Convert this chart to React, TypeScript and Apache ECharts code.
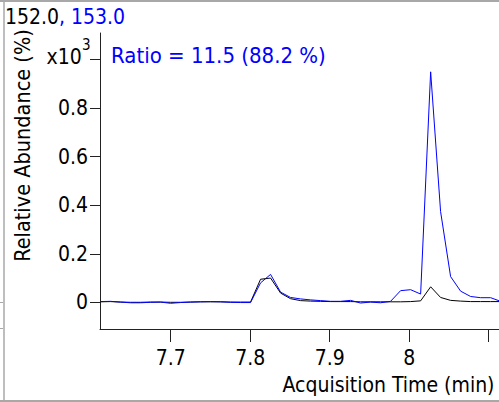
import React, { useEffect, useRef } from "react";
import * as echarts from "echarts";

// Acquisition times (min)
const times = [
  7.6116, 7.6242, 7.6368, 7.6494, 7.6619, 7.6745, 7.6871, 7.6997, 7.7123, 7.7249,
  7.7375, 7.75, 7.7626, 7.7752, 7.7878, 7.8004, 7.813, 7.8256, 7.8382, 7.8507,
  7.8633, 7.8759, 7.8885, 7.9011, 7.9137, 7.9263, 7.9388, 7.9514, 7.964, 7.9766,
  7.9892, 8.0018, 8.0144, 8.027, 8.0395, 8.0521, 8.0647, 8.0773, 8.0899, 8.1025,
  8.1151,
];

// m/z 152.0 (black), relative abundance x10^3
const ion152 = [
  0.002, 0.003, 0.001, 0.0, 0.0, 0.001, 0.001, 0.0, 0.0, 0.001,
  0.002, 0.002, 0.002, 0.001, 0.001, 0.001, 0.095, 0.1, 0.038, 0.015,
  0.007, 0.005, 0.004, 0.003, 0.003, 0.003, 0.002, 0.002, 0.002, 0.002,
  0.002, 0.003, 0.006, 0.064, 0.02, 0.008, 0.005, 0.003, 0.003, 0.003,
  0.003,
];

// m/z 153.0 (blue)
const ion153 = [
  0.003, 0.004, 0.001, -0.002, -0.002, 0.0, 0.001, -0.004, -0.001, 0.001,
  0.002, 0.003, 0.002, 0.0, -0.001, -0.001, 0.08, 0.115, 0.042, 0.02,
  0.014, 0.01, 0.007, 0.004, 0.004, 0.008, -0.003, 0.001, -0.002, 0.004,
  0.048, 0.052, 0.034, 0.95, 0.374, 0.106, 0.046, 0.024, 0.019, 0.019,
  0.004,
];

const xTicks = [7.7, 7.8, 7.9, 8.0, 8.1];
const xLabels = [7.7, 7.8, 7.9, 8.0];
const yTicks = [0, 0.2, 0.4, 0.6, 0.8, 1.0];
const yLabels = [0, 0.2, 0.4, 0.6, 0.8];

const FONT = "'DejaVu Sans Condensed', 'DejaVu Sans', sans-serif";
const BLUE = "#0000ff";
const GRAY = "#a8a8a8";

export default function App() {
  const ref = useRef<HTMLDivElement>(null);

  useEffect(() => {
    if (!ref.current) return;
    const chart = echarts.init(ref.current, undefined, { renderer: "svg" });
    const fmt = (v: number) => String(Math.round(v * 10) / 10);

    chart.setOption({
      animation: false,
      backgroundColor: "#ffffff",
      grid: { left: 100, right: 0, top: 33, bottom: 73, containLabel: false, outerBoundsMode: "none" },
      xAxis: {
        type: "value",
        min: 7.611,
        max: 8.113,
        splitLine: { show: false },
        axisLine: { show: true, onZero: false, lineStyle: { color: "#222", width: 1 } },
        axisTick: { show: true, length: 13, customValues: xTicks, lineStyle: { color: "#222" } },
        axisLabel: {
          customValues: xLabels,
          formatter: fmt,
          margin: 18,
          color: "#000",
          fontSize: 21,
          fontFamily: FONT,
        },
      },
      yAxis: {
        type: "value",
        min: -0.11,
        max: 1.11,
        splitLine: { show: false },
        axisLine: { show: true, onZero: false, lineStyle: { color: "#222", width: 1 } },
        axisTick: { show: true, length: 10, customValues: yTicks, lineStyle: { color: "#222" } },
        axisLabel: {
          customValues: yLabels,
          formatter: (v: number) => (v === 0 ? "0" : fmt(v)),
          margin: 12,
          padding: [6, 0, 0, 0],
          color: "#000",
          fontSize: 21,
          fontFamily: FONT,
        },
      },
      series: [
        {
          type: "line",
          name: "152.0",
          data: times.map((t, i) => [t, ion152[i]]),
          symbol: "none",
          lineStyle: { color: "#000", width: 1 },
          itemStyle: { color: "#000" },
          clip: true,
        },
        {
          type: "line",
          name: "153.0",
          data: times.map((t, i) => [t, ion153[i]]),
          symbol: "none",
          lineStyle: { color: BLUE, width: 1 },
          itemStyle: { color: BLUE },
          clip: true,
        },
      ],
      graphic: [
        { type: "line", shape: { x1: 0, y1: 1, x2: 499, y2: 1 }, style: { stroke: GRAY, lineWidth: 2 } },
        { type: "line", shape: { x1: 4, y1: 0, x2: 4, y2: 402 }, style: { stroke: GRAY, lineWidth: 1.5 } },
        { type: "line", shape: { x1: 0, y1: 401, x2: 499, y2: 401 }, style: { stroke: GRAY, lineWidth: 2 } },
        { type: "line", shape: { x1: 0, y1: 302.5, x2: 3, y2: 302.5 }, style: { stroke: GRAY, lineWidth: 1 } },
        { type: "line", shape: { x1: 0, y1: 328.5, x2: 3, y2: 328.5 }, style: { stroke: GRAY, lineWidth: 1 } },
        {
          type: "text",
          x: 5,
          y: 17,
          style: {
            text: "{k|152.0}{b|, 153.0}",
            verticalAlign: "middle",
            align: "left",
            fontSize: 21,
            fontFamily: FONT,
            rich: {
              k: { fill: "#000", fontSize: 21, fontFamily: FONT },
              b: { fill: BLUE, fontSize: 21, fontFamily: FONT },
            },
          },
        },
        {
          type: "text",
          x: 111,
          y: 55.5,
          style: {
            text: "Ratio = 11.5 (88.2 %)",
            fill: BLUE,
            fontSize: 22,
            fontFamily: FONT,
            align: "left",
            verticalAlign: "middle",
          },
        },
        {
          type: "text",
          x: 81.7,
          y: 56.5,
          style: { text: "x10", fill: "#000", fontSize: 21, fontFamily: FONT, align: "right", verticalAlign: "middle" },
        },
        {
          type: "text",
          x: 82,
          y: 44.5,
          style: { text: "3", fill: "#000", fontSize: 15, fontFamily: FONT, align: "left", verticalAlign: "middle" },
        },
        {
          type: "text",
          x: 22,
          y: 145.5,
          rotation: Math.PI / 2,
          style: {
            text: "Relative Abundance (%)",
            fill: "#000",
            fontSize: 21.5,
            fontFamily: FONT,
            align: "center",
            verticalAlign: "middle",
          },
        },
        {
          type: "text",
          x: 494.5,
          y: 385,
          style: {
            text: "Acquisition Time (min)",
            fill: "#000",
            fontSize: 21,
            fontFamily: FONT,
            align: "right",
            verticalAlign: "middle",
          },
        },
      ],
    });

    return () => chart.dispose();
  }, []);

  return (
    <div
      ref={ref}
      style={{ position: "fixed", left: 0, top: 0, width: 499, height: 402, background: "#fff" }}
    />
  );
}
